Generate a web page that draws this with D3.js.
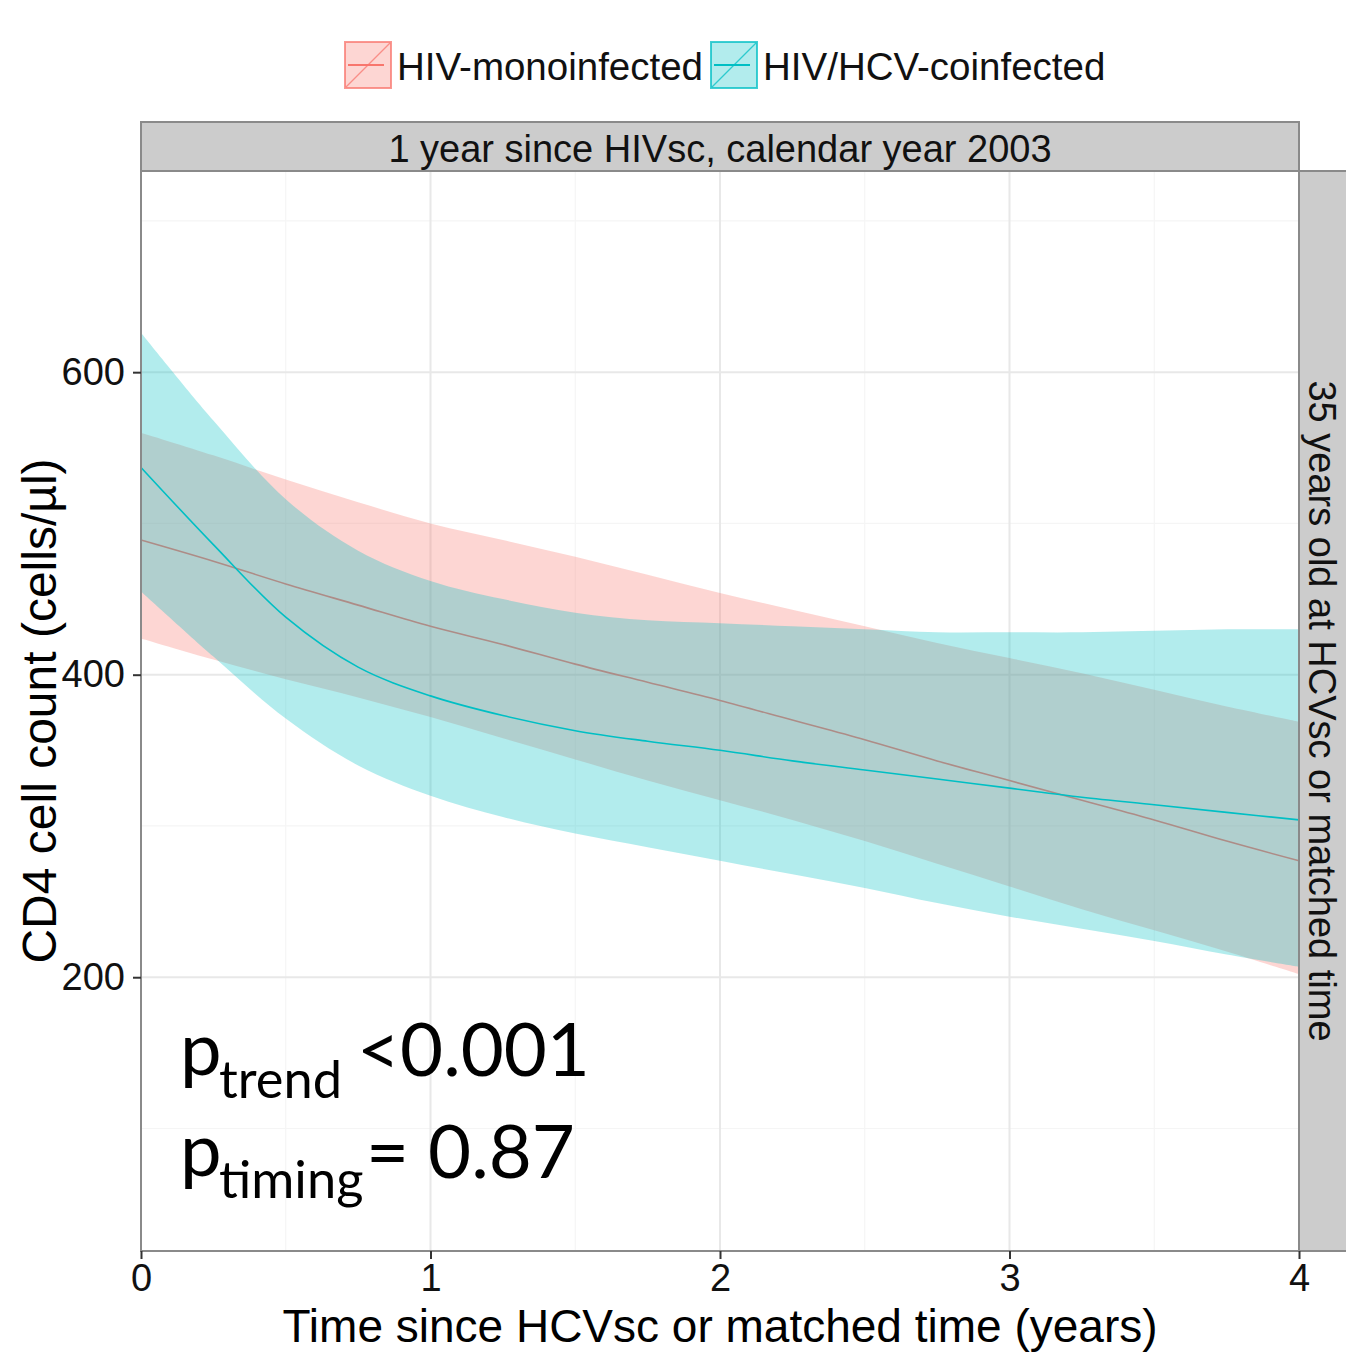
<!DOCTYPE html>
<html><head><meta charset="utf-8">
<script src="https://cdn.jsdelivr.net/npm/d3@7"></script>
<style>html,body{margin:0;padding:0;background:#fff;} svg{display:block;}</style>
</head><body>
<svg id="chart" width="1346" height="1352"></svg>
<script>
// ---- data ----
const years      = [0, 0.25, 0.5, 0.75, 1, 1.25, 1.5, 1.75, 2, 2.25, 2.5, 2.75, 3, 3.25, 3.5, 3.75, 4];
const monoFit    = [489, 475, 460, 446, 432, 420, 407, 395, 383, 370, 357, 343, 330, 317, 304, 290, 277];
const monoLower  = [424, 410, 397, 385, 372, 358, 344, 330, 317, 304, 290, 275, 260, 245, 231, 217, 202];
const monoUpper  = [560, 545, 529, 514, 500, 489, 478, 466, 454, 443, 432, 421, 411, 401, 390, 379, 369];
const coFit      = [537, 486, 438, 405, 386, 373, 363, 356, 350, 343, 337, 331, 325, 319, 314, 309, 304];
const coLower    = [455, 412, 371, 340, 320, 306, 295, 286, 277, 268, 259, 249, 240, 232, 224, 215, 207];
const coUpper    = [626, 568, 516, 482, 462, 450, 441, 436, 434, 432, 430, 428, 428, 428, 429, 430, 430];
const seriesNames = ["HIV-monoinfected", "HIV/HCV-coinfected"];
const xTicks = [0, 1, 2, 3, 4];
const xMinor = [0.5, 1.5, 2.5, 3.5];
const yTicks = [200, 400, 600];
const yMinor = [100, 300, 500, 700];
const stripTopLabel = "1 year since HIVsc, calendar year 2003";
const stripRightLabel = "35 years old at HCVsc or matched time";
const xTitle = "Time since HCVsc or matched time (years)";
const yTitle = "CD4 cell count (cells/µl)";
const pTrendLabel = ["p", "trend", "<0.001"];
const pTimingLabel = ["p", "timing", "= 0.87"];

// ---- layout ----
const colors = ["#F8766D", "#00BFC4"];
const L = 141, R = 1299, T = 171, B = 1251;
const font = "'Liberation Sans', Arial, sans-serif";
const svg = d3.select("#chart");
const x = d3.scaleLinear().domain([0, 4]).range([L, R]);
const y = d3.scaleLinear().domain([19, 733]).range([B, T]);

svg.append("rect").attr("width", 1346).attr("height", 1352).attr("fill", "#fff");

// grid
const g = svg.append("g");
g.selectAll(".ymin").data(yMinor).join("line")
  .attr("x1", L).attr("x2", R).attr("y1", d => y(d)).attr("y2", d => y(d))
  .attr("stroke", "#F5F5F5").attr("stroke-width", 1.2);
g.selectAll(".xmin").data(xMinor).join("line")
  .attr("y1", T).attr("y2", B).attr("x1", d => x(d)).attr("x2", d => x(d))
  .attr("stroke", "#F5F5F5").attr("stroke-width", 1.2);
g.selectAll(".ymaj").data(yTicks).join("line")
  .attr("x1", L).attr("x2", R).attr("y1", d => y(d)).attr("y2", d => y(d))
  .attr("stroke", "#E8E8E8").attr("stroke-width", 2);
g.selectAll(".xmaj").data(xTicks).join("line")
  .attr("y1", T).attr("y2", B).attr("x1", d => x(d)).attr("x2", d => x(d))
  .attr("stroke", "#E8E8E8").attr("stroke-width", 2);

// ribbons and lines
const series = [
  {fit: monoFit, lo: monoLower, hi: monoUpper, color: colors[0]},
  {fit: coFit, lo: coLower, hi: coUpper, color: colors[1]}
];
const curve = d3.curveCatmullRom.alpha(0.5);
const area = d3.area().curve(curve)
  .x((d, i) => x(years[i])).y0(d => y(d[0])).y1(d => y(d[1]));
const line = d3.line().curve(curve)
  .x((d, i) => x(years[i])).y(d => y(d));
series.forEach(s => {
  svg.append("path").datum(s.lo.map((v, i) => [v, s.hi[i]]))
    .attr("d", area).attr("fill", s.color).attr("fill-opacity", 0.3);
  svg.append("path").datum(s.fit).attr("d", line)
    .attr("fill", "none").attr("stroke", s.color).attr("stroke-width", 1.6);
});

// annotation
const annFont = "Lato, 'Open Sans', sans-serif";
function addTxt(str, px, py, size) {
  return svg.append("text").attr("x", px).attr("y", py).attr("font-family", annFont)
    .attr("font-size", size).attr("fill", "#000").text(str);
}
const probe = addTxt(pTrendLabel[2], 0, -100, 100);
const mainSize = 100 * 233 / probe.node().getComputedTextLength();
probe.remove();
const probe2 = addTxt(pTrendLabel[1], 0, -100, 100);
const subSize = 100 * 123 / probe2.node().getComputedTextLength();
probe2.remove();
addTxt(pTrendLabel[0], 180, 1075, mainSize);
addTxt(pTrendLabel[1], 219, 1098, subSize);
addTxt(pTrendLabel[2], 357, 1076, mainSize);
addTxt(pTimingLabel[0], 180, 1176, mainSize);
addTxt(pTimingLabel[1], 219, 1198, subSize);
addTxt(pTimingLabel[2], 366, 1178, mainSize);

// panel border
svg.append("rect").attr("x", L).attr("y", T).attr("width", R - L).attr("height", B - T)
  .attr("fill", "none").attr("stroke", "#8a8a8a").attr("stroke-width", 2);

// strips
svg.append("rect").attr("x", L).attr("y", 122).attr("width", R - L).attr("height", T - 122)
  .attr("fill", "#CCCCCC").attr("stroke", "#8a8a8a").attr("stroke-width", 2);
svg.append("text").attr("x", (L + R) / 2).attr("y", 162).attr("text-anchor", "middle")
  .attr("font-family", font).attr("font-size", 38).attr("fill", "#111").text(stripTopLabel);
svg.append("rect").attr("x", R).attr("y", T).attr("width", 60).attr("height", B - T)
  .attr("fill", "#CCCCCC").attr("stroke", "#8a8a8a").attr("stroke-width", 2);
svg.append("text").attr("transform", `translate(1309,${(T + B) / 2}) rotate(90)`)
  .attr("text-anchor", "middle").attr("font-family", font).attr("font-size", 38)
  .attr("fill", "#111").text(stripRightLabel);

// axes
const yAxis = svg.append("g").attr("transform", `translate(${L},0)`)
  .call(d3.axisLeft(y).tickValues(yTicks).tickSize(8).tickPadding(8));
const xAxis = svg.append("g").attr("transform", `translate(0,${B})`)
  .call(d3.axisBottom(x).tickValues(xTicks).tickSize(8).tickPadding(5).tickFormat(d3.format("d")));
[yAxis, xAxis].forEach(a => {
  a.select(".domain").remove();
  a.selectAll(".tick line").attr("stroke", "#333").attr("stroke-width", 2);
  a.selectAll(".tick text").attr("font-family", font).attr("font-size", 38).attr("fill", "#111");
});

// titles
svg.append("text").attr("x", (L + R) / 2).attr("y", 1342).attr("text-anchor", "middle")
  .attr("font-family", font).attr("font-size", 46).attr("fill", "#000").text(xTitle);
svg.append("text").attr("transform", `translate(56,${(T + B) / 2}) rotate(-90)`)
  .attr("text-anchor", "middle").attr("font-family", font).attr("font-size", 48)
  .attr("fill", "#000").text(yTitle);

// legend
const legendX = [345, 711];
seriesNames.forEach((name, i) => {
  const kx = legendX[i], ky = 42, ks = 46;
  const lg = svg.append("g");
  lg.append("rect").attr("x", kx).attr("y", ky).attr("width", ks).attr("height", ks)
    .attr("fill", colors[i]).attr("fill-opacity", 0.3)
    .attr("stroke", colors[i]).attr("stroke-opacity", 0.75).attr("stroke-width", 2);
  lg.append("line").attr("x1", kx + 1).attr("y1", ky + ks - 1).attr("x2", kx + ks - 1).attr("y2", ky + 1)
    .attr("stroke", colors[i]).attr("stroke-opacity", 0.75).attr("stroke-width", 1.3);
  lg.append("line").attr("x1", kx + 3).attr("x2", kx + 39).attr("y1", ky + ks / 2).attr("y2", ky + ks / 2)
    .attr("stroke", colors[i]).attr("stroke-width", 2);
  lg.append("text").attr("x", kx + ks + 6).attr("y", 80).attr("font-family", font)
    .attr("font-size", 38.5).attr("fill", "#111").text(name);
});
</script>
</body></html>
